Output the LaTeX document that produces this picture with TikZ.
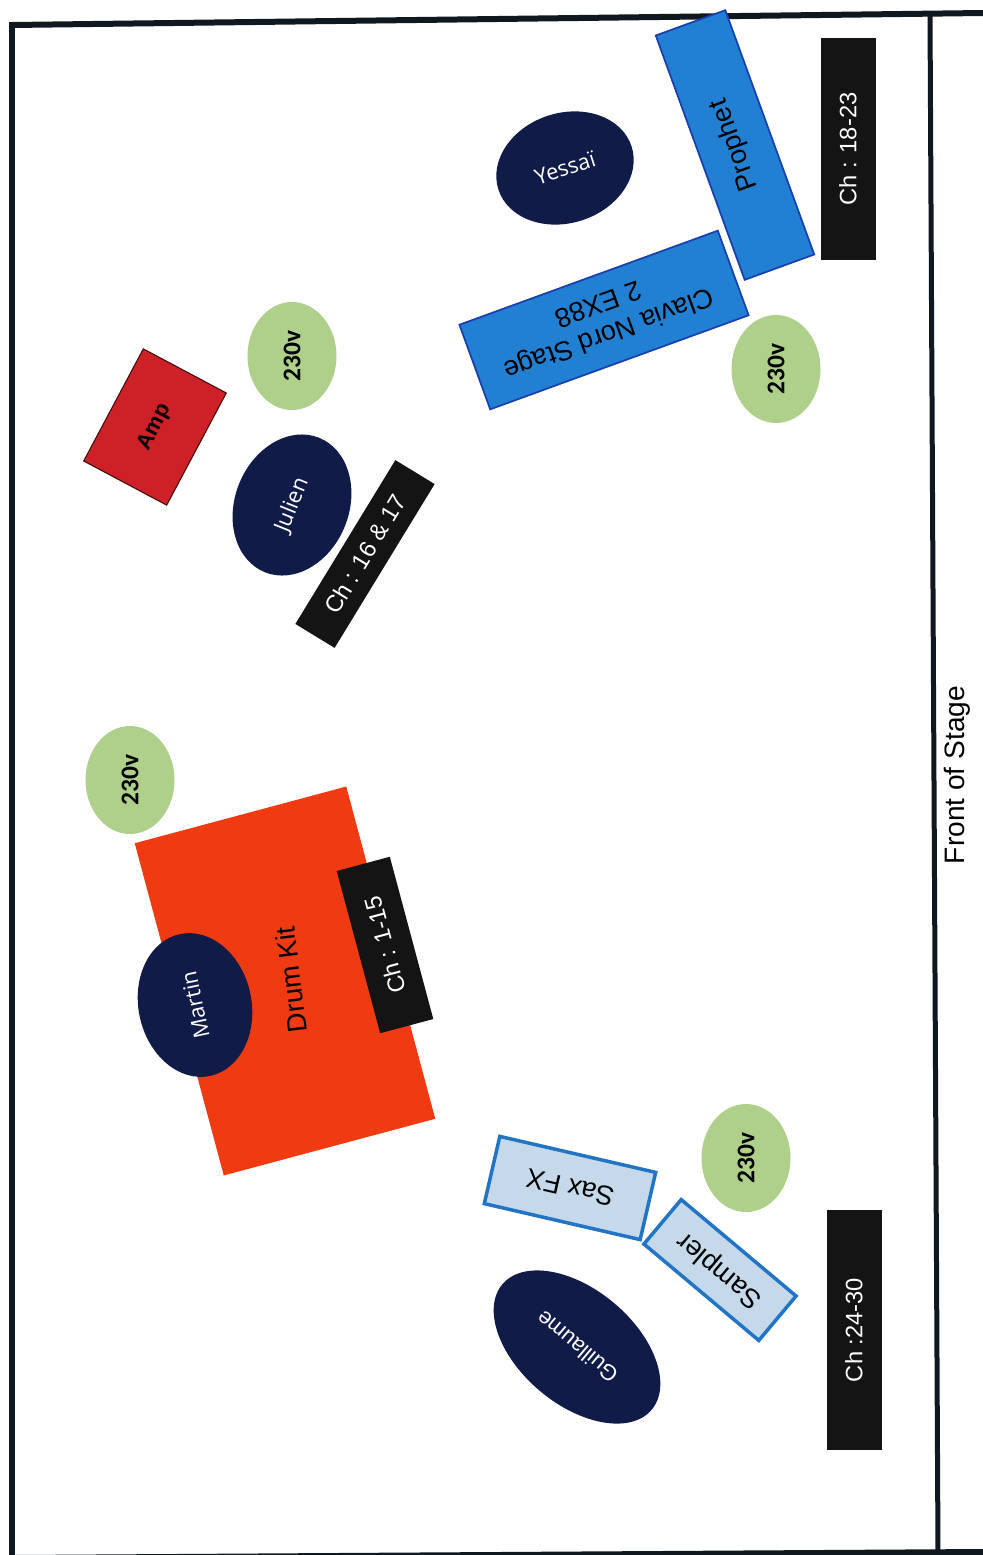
\documentclass[tikz,border=0pt]{standalone}
\usepackage{fontspec}
\setmainfont{Liberation Sans}
\newfontfamily\labelfont{Open Sans}
\newfontfamily\plugfont{Carlito}
\usetikzlibrary{shapes.geometric}
\definecolor{navy}{HTML}{101B47}
\definecolor{keyblue}{HTML}{2280D2}
\definecolor{keyedge}{HTML}{1A3FB0}
\definecolor{plugreen}{HTML}{AED08A}
\definecolor{ampred}{HTML}{CE2027}
\definecolor{drumred}{HTML}{EF3A12}
\definecolor{palefx}{HTML}{C6D9EA}
\definecolor{fxedge}{HTML}{2274C4}
\definecolor{framecol}{HTML}{10181F}
\tikzstyle{musician} = [
    ellipse,
    inner sep=0pt,
    fill=navy,
    text=white,
    font=\labelfont\fontsize{12.5}{14}\selectfont
]
\tikzstyle{socket} = [
    ellipse,
    inner sep=0pt,
    minimum width=2.16cm,
    minimum height=1.78cm,
    rotate=90,
    fill=plugreen,
    font=\plugfont\bfseries\fontsize{14.5}{16}\selectfont
]
\tikzstyle{channel} = [
    rectangle,
    inner sep=0pt,
    minimum height=1.1cm,
    fill=black!92,
    text=white,
    font=\fontsize{13.5}{16}\selectfont
]
\tikzstyle{keyboard} = [
    rectangle,
    inner sep=0pt,
    draw=keyedge,
    line width=1pt,
    fill=keyblue,
    font=\fontsize{15.5}{18}\selectfont
]
\tikzstyle{effect} = [
    rectangle,
    inner sep=0pt,
    draw=fxedge,
    line width=2pt,
    fill=palefx,
    font=\fontsize{15.5}{18}\selectfont
]
\tikzstyle{frameline} = [framecol, line width=1.2mm]

\begin{document}
\begin{tikzpicture}[x=0.02cm, y=-0.02cm]
\useasboundingbox (0,0) rectangle (983,1555);

\coordinate (topleft) at (12,25);
\coordinate (topright) at (983,13);
\coordinate (botleft) at (12,1558);
\coordinate (botright) at (983,1552);
\coordinate (fronttop) at (930,14);
\coordinate (frontbot) at (938,1552);

\draw [frameline] (topright) -- (topleft) -- (botleft) -- (botright);
\draw [frameline, line width=1mm] (fronttop) -- (frontbot);

\node (front) [rotate=90, font=\fontsize{16}{19}\selectfont] at (957,775) {Front of Stage};

\node (prophet) [keyboard, minimum width=5.2cm, minimum height=1.48cm, rotate=110] at (735,145) {Prophet};
\node (chkeys) [channel, minimum width=4.44cm, rotate=90] at (848,149) {Ch : 18-23};
\node (yessai) [musician, minimum width=2.8cm, minimum height=2.2cm, rotate=18] at (565,168) {Yessaï};
\node (clavia) [keyboard, minimum width=5.5cm, minimum height=1.8cm, rotate=200, align=center] at (604,320) {Clavia Nord Stage\\2 EX88};
\node (plugkeys) [socket] at (776,369) {230v};

\node (amp) [rectangle, inner sep=0pt, draw=black!70!ampred, line width=0.6pt, fill=ampred, minimum width=2.54cm, minimum height=1.88cm, rotate=62, font=\bfseries\fontsize{12.5}{15}\selectfont] at (155,427) {Amp};
\node (plugamp) [socket] at (292,356) {230v};
\node (julien) [musician, minimum width=2.9cm, minimum height=2.28cm, rotate=68] at (292,505) {Julien};
\node (chguitar) [channel, minimum width=3.84cm, minimum height=0.92cm, rotate=58.6] at (365,554) {Ch : 16 \& 17};

\node (plugdrum) [socket] at (130,780) {230v};
\node (drums) [rectangle, inner sep=0pt, fill=drumred, minimum width=6.88cm, minimum height=4.38cm, rotate=105] at (285,981) {};
\node (drumtext) [rotate=97, font=\fontsize{15.5}{18}\selectfont] at (291,980) {Drum Kit};
\node (chdrums) [channel, minimum width=3.36cm, rotate=105] at (385,945) {Ch : 1-15};
\node (martin) [musician, minimum width=2.9cm, minimum height=2.26cm, rotate=102] at (195,1005) {Martin};

\node (saxfx) [effect, minimum width=3.2cm, minimum height=1.38cm, rotate=167] at (570,1188) {Sax FX};
\node (sampler) [effect, minimum width=3cm, minimum height=1.16cm, rotate=140] at (720,1270) {Sampler};
\node (plugsax) [socket] at (746,1158) {230v};
\node (guillaume) [musician, minimum width=3.9cm, minimum height=2.3cm, rotate=140, font=\fontsize{12.5}{15}\selectfont] at (577,1347) {Guillaume};
\node (chsax) [channel, minimum width=4.8cm, rotate=90] at (854,1330) {Ch :24-30};

\end{tikzpicture}
\end{document}
